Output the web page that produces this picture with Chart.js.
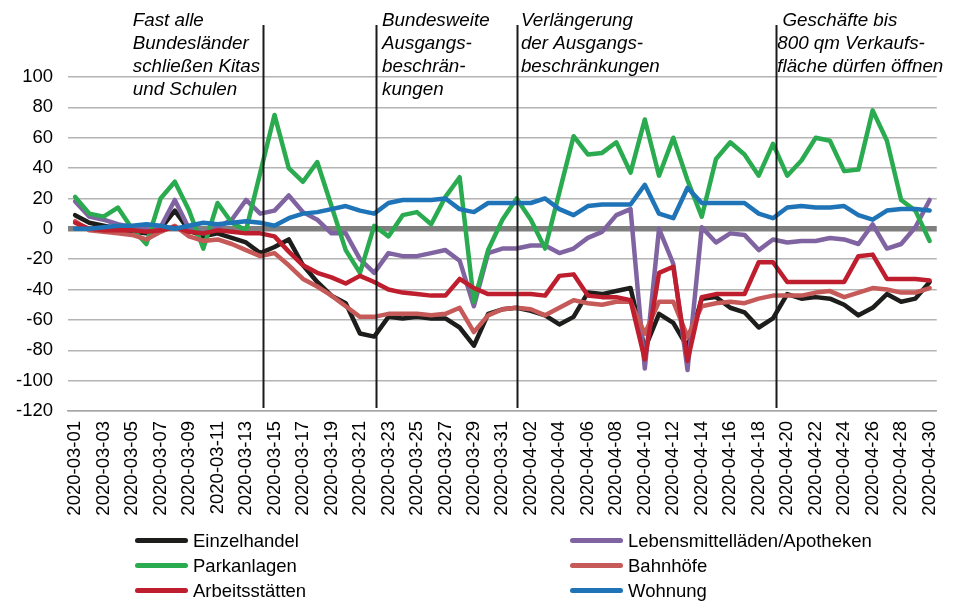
<!DOCTYPE html>
<html>
<head>
<meta charset="utf-8">
<script src="https://cdn.jsdelivr.net/npm/chart.js@4"></script>
<style>
body{margin:0;background:#fff;}
#wrap{position:relative;width:962px;height:601px;font-family:"Liberation Sans",Arial,sans-serif;}
.lg{position:absolute;font-size:18.5px;color:#000;line-height:20px;white-space:nowrap;}
.lg span{display:inline-block;width:53px;height:5px;border-radius:3px;vertical-align:middle;margin-right:5px;position:relative;top:-2px;}
</style>
</head>
<body>
<div id="wrap">
<canvas id="myChart" width="962" height="601"></canvas>
</div>
<script>
// data
var days = [];
for (var d = 1; d <= 31; d++) days.push('2020-03-' + (d < 10 ? '0' + d : d));
for (var d = 1; d <= 30; d++) days.push('2020-04-' + (d < 10 ? '0' + d : d));

var einzelhandel = [9,4,2,0,-2,-3,0,12,-1,-5,-3,-6,-9,-16,-12,-7,-24,-35,-44,-49,-69,-71,-58,-59,-58,-59,-59,-65,-77,-56,-53,-52,-54,-57,-63,-58,-42,-43,-41,-39,-79,-56,-62,-78,-46,-45,-52,-55,-65,-59,-43,-46,-45,-46,-50,-57,-52,-43,-48,-46,-35];
var lebensmittel = [18,8,6,3,1,0,1,19,0,-3,1,6,19,10,12,22,11,6,-3,-3,-20,-29,-16,-18,-18,-16,-14,-21,-51,-16,-13,-13,-11,-11,-16,-13,-6,-2,9,13,-92,0,-23,-93,1,-9,-3,-4,-14,-7,-9,-8,-8,-6,-7,-10,3,-13,-10,1,19];
var parkanlagen = [21,10,8,14,0,-10,20,31,12,-13,17,4,-1,37,75,40,31,44,15,-14,-29,2,-5,9,11,3,21,34,-48,-14,6,20,6,-13,24,61,49,50,57,37,72,35,60,32,8,46,57,49,35,56,35,45,60,58,38,39,78,58,19,12,-8];
var bahnhoefe = [5,-1,-2,-3,-4,-7,-2,2,-5,-8,-7,-10,-14,-18,-16,-24,-33,-38,-44,-51,-58,-58,-56,-56,-56,-57,-56,-52,-68,-57,-53,-52,-53,-57,-52,-47,-49,-50,-48,-48,-69,-48,-48,-71,-51,-49,-48,-49,-46,-44,-44,-44,-42,-41,-45,-42,-39,-40,-42,-42,-39];
var arbeit = [4,0,-1,-1,-1,-2,-1,1,-2,-3,-1,-2,-3,-3,-5,-15,-24,-29,-32,-36,-31,-35,-40,-42,-43,-44,-44,-33,-39,-43,-43,-43,-43,-44,-31,-30,-44,-45,-45,-47,-86,-29,-25,-87,-45,-43,-43,-43,-22,-22,-35,-35,-35,-35,-35,-18,-17,-33,-33,-33,-34];
var wohnung = [0,0,1,2,2,3,2,0,2,4,3,4,5,4,2,7,10,11,13,15,12,10,17,19,19,19,20,13,11,17,17,17,17,20,13,9,15,16,16,16,29,10,7,27,17,17,17,17,10,7,14,15,14,14,15,9,6,12,13,13,12];

var yTicks = [100,80,60,40,20,0,-20,-40,-60,-80,-100,-120];

var seriesNames = ['Einzelhandel','Lebensmittelläden/Apotheken','Parkanlagen','Bahnhöfe','Arbeitsstätten','Wohnung'];
var seriesData = [einzelhandel, lebensmittel, parkanlagen, bahnhoefe, arbeit, wohnung];
var seriesColors = ['#1d1d1b','#8064a2','#2bab4f','#c55a58','#be1e2d','#1f73b7'];

// events: line at category index, text start index, text lines
var eventLines = [13.2, 21.1, 31, 49.2];
var eventTextX = [4.05, 21.55, 31.3, 49.3];
var eventTexts = [
	['Fast alle','Bundesländer','schließen Kitas','und Schulen'],
	['Bundesweite','Ausgangs-','beschrän-','kungen'],
	['Verlängerung','der Ausgangs-','beschränkungen'],
	[' Geschäfte bis','800 qm Verkaufs-','fläche dürfen öffnen']
];

//function's start
var eventPlugin = {
	id: 'events',
	afterDatasetsDraw: function(chart){
		var ctx = chart.ctx;
		var xs = chart.scales.x;
		var bottom = chart.chartArea.bottom - 3;
		ctx.save();
		ctx.strokeStyle = '#1a1a1a';
		ctx.lineWidth = 2;
		for(var i = 0;i < eventLines.length;i++){
			var px = Math.round(xs.getPixelForValue(eventLines[i])) + 0.5;
			ctx.beginPath();
			ctx.moveTo(px, 25);
			ctx.lineTo(px, bottom);
			ctx.stroke();
		}
		ctx.fillStyle = '#000';
		ctx.font = 'italic 18.8px "Liberation Sans", Arial, sans-serif';
		ctx.textBaseline = 'middle';
		ctx.textAlign = 'left';
		for(var i = 0;i < eventTexts.length;i++){
			var tx = xs.getPixelForValue(eventTextX[i]);
			for(var j = 0;j < eventTexts[i].length;j++){
				ctx.fillText(eventTexts[i][j], tx, 21 + j * 23);
			}
		}
		ctx.restore();
	}
};

function build_datasets(){
	var sets = [];
	for(var i = 0;i < seriesNames.length;i++){
		sets.push({
			label: seriesNames[i],
			data: seriesData[i],
			borderColor: seriesColors[i],
			backgroundColor: seriesColors[i],
			borderWidth: 4.5,
			pointRadius: 0,
			tension: 0,
			fill: false,
			borderJoinStyle: 'round',
			borderCapStyle: 'round',
			order: seriesNames.length - i
		});
	}
	return sets;
}

function build_legend(){
	var wrap = document.getElementById('wrap');
	for(var i = 0;i < seriesNames.length;i++){
		var col = i % 2, row = Math.floor(i / 2);
		var div = document.createElement('div');
		div.className = 'lg';
		div.style.left = (col == 0 ? 135 : 570) + 'px';
		div.style.top = (531 + row * 25) + 'px';
		div.innerHTML = '<span style="background:' + seriesColors[i] + '"></span>' + seriesNames[i];
		wrap.appendChild(div);
	}
}
//function's end

Chart.defaults.font.family = '"Liberation Sans", Arial, sans-serif';
Chart.defaults.font.size = 18.5;
Chart.defaults.color = '#000';

var myChart = new Chart(document.getElementById('myChart'), {
	type: 'line',
	data: {
		labels: days,
		datasets: build_datasets()
	},
	options: {
		responsive: false,
		animation: false,
		layout: { padding: { top: 77, right: 20, left: 0, bottom: 80 } },
		plugins: { legend: { display: false }, tooltip: { enabled: false } },
		scales: {
			x: {
				offset: true,
				grid: { display: false, drawTicks: false },
				border: { display: true, color: '#a6a6a6', width: 1.5 },
				ticks: {
					autoSkip: false,
					minRotation: 90,
					maxRotation: 90,
					padding: 10,
					callback: function(v, idx){ return idx % 2 == 0 ? this.getLabelForValue(v) : ''; }
				},
				afterFit: function(s){ s.height = 110; }
			},
			y: {
				min: yTicks[yTicks.length - 1],
				max: yTicks[0],
				border: { display: false },
				grid: {
					drawTicks: false,
					color: function(c){ return c.tick && c.tick.value === 0 ? '#7f7f7f' : '#b4b4b4'; },
					lineWidth: function(c){ return c.tick && c.tick.value === 0 ? 5.5 : 1.5; }
				},
				ticks: { stepSize: 20, padding: 15 },
				afterFit: function(s){ s.width = 68; }
			}
		}
	},
	plugins: [eventPlugin]
});

build_legend();
</script>
</body>
</html>
